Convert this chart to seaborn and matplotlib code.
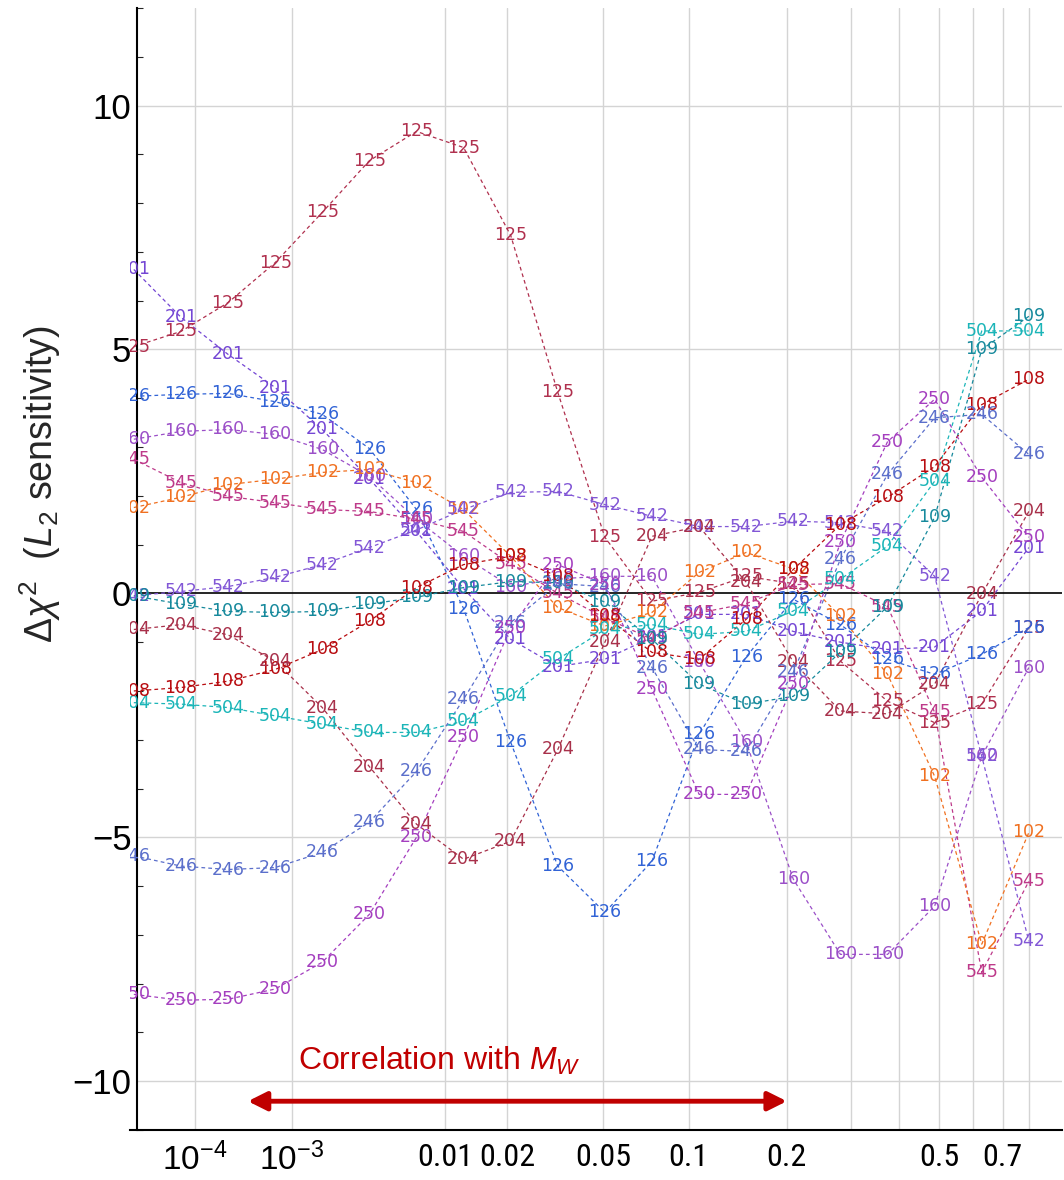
import numpy as np
import pandas as pd
import matplotlib
matplotlib.use("Agg")
import matplotlib.pyplot as plt
from matplotlib import font_manager
from matplotlib.font_manager import FontProperties
import seaborn as sns

# correlation grid (uniform in corr**0.2)
corr = [1.0e-5, 6.43e-5, 2.485e-4, 7.20e-4, 1.730e-3, 3.645e-3, 6.974e-3, 0.01238,
        0.02072, 0.03305, 0.05065, 0.07506, 0.1081, 0.1518, 0.2087, 0.2815,
        0.3733, 0.4876, 0.6284, 0.7999]

d125 = [5.06, 5.37, 5.96, 6.78, 7.81, 8.87, 9.47, 9.14, 7.34, 4.12, 1.15, -0.16, 0.02, 0.35, 0.20, -1.39, -2.21, -2.65, -2.27, -0.70]
d201 = [6.64, 5.66, 4.90, 4.22, 3.36, 2.35, 1.27, 0.10, -0.94, -1.50, -1.35, -0.90, -0.43, -0.43, -0.78, -1.00, -1.15, -1.10, -0.36, 0.94]
d126 = [4.04, 4.08, 4.10, 3.93, 3.67, 2.97, 1.72, -0.31, -3.05, -5.59, -6.54, -5.49, -2.89, -1.30, -0.12, -0.64, -1.35, -1.66, -1.25, -0.70]
d160 = [3.16, 3.32, 3.36, 3.26, 2.95, 2.40, 1.52, 0.76, 0.14, 0.30, 0.35, 0.35, -1.40, -3.05, -5.86, -7.40, -7.40, -6.41, -3.34, -1.52]
d545 = [2.75, 2.27, 1.99, 1.86, 1.72, 1.68, 1.52, 1.27, 0.60, 0.00, -0.50, -0.94, -0.40, -0.21, 0.18, 0.20, -0.27, -2.44, -7.77, -5.90]
d102 = [1.76, 1.97, 2.23, 2.34, 2.48, 2.54, 2.27, 1.72, 0.76, -0.29, -0.67, -0.39, 0.43, 0.84, 0.50, -0.47, -1.66, -3.75, -7.19, -4.90]
d542 = [-0.05, 0.04, 0.14, 0.33, 0.59, 0.94, 1.30, 1.72, 2.07, 2.09, 1.82, 1.58, 1.37, 1.37, 1.48, 1.45, 1.27, 0.35, -3.34, -7.13]
d109 = [-0.05, -0.22, -0.37, -0.39, -0.37, -0.22, -0.08, 0.12, 0.24, 0.22, -0.18, -0.94, -1.86, -2.27, -2.11, -1.20, -0.27, 1.56, 5.00, 5.68]
d504 = [-2.24, -2.27, -2.34, -2.51, -2.68, -2.85, -2.85, -2.62, -2.10, -1.35, -0.74, -0.64, -0.84, -0.78, -0.36, 0.29, 0.97, 2.30, 5.38, 5.38]
d108 = [-2.00, -1.93, -1.80, -1.56, -1.15, -0.57, 0.12, 0.59, 0.76, 0.35, -0.46, -1.21, -1.35, -0.53, 0.49, 1.41, 1.97, 2.60, 3.87, 4.39]
d204 = [-0.74, -0.64, -0.85, -1.39, -2.34, -3.55, -4.73, -5.45, -5.08, -3.20, -1.00, 1.17, 1.37, 0.23, -1.41, -2.41, -2.47, -1.86, -0.02, 1.68]
d246 = [-5.38, -5.59, -5.66, -5.62, -5.31, -4.69, -3.65, -2.17, -0.60, 0.20, 0.14, -1.52, -3.20, -3.24, -1.62, 0.70, 2.44, 3.60, 3.67, 2.85]
d250 = [-8.22, -8.34, -8.32, -8.11, -7.56, -6.58, -5.00, -2.95, -0.70, 0.59, 0.18, -1.97, -4.12, -4.12, -1.86, 1.05, 3.11, 3.98, 2.38, 1.15]

series = {
    "125": d125, "201": d201, "126": d126, "160": d160, "545": d545,
    "102": d102, "542": d542, "109": d109, "504": d504, "108": d108,
    "204": d204, "246": d246, "250": d250,
}
colors = {
    "125": "#B0304E", "201": "#7446D4", "126": "#3163D6", "160": "#9B4FC8",
    "545": "#BE3A8A", "102": "#F07020", "542": "#8257D6", "109": "#16899C",
    "504": "#1BB5B8", "108": "#B80C10", "204": "#A8304A", "246": "#5B6FCB",
    "250": "#A43EBF",
}

tick_vals = [1e-4, 1e-3, 0.01, 0.02, 0.05, 0.1, 0.2, 0.3, 0.4, 0.5, 0.6, 0.7, 0.8]
tick_text = [r"$10^{-4}$", r"$10^{-3}$", "0.01", "0.02", "0.05", "0.1", "0.2",
             "", "", "0.5", "", "0.7", ""]

rows = []
for name, vals in series.items():
    for c, v in zip(corr, vals):
        rows.append({"set": name, "corr": c, "dchi2": v})
df = pd.DataFrame(rows)

sns.set_theme(style="white")
plt.rcParams["font.family"] = ["Liberation Sans", "DejaVu Sans"]
plt.rcParams["mathtext.fontset"] = "custom"
plt.rcParams["mathtext.rm"] = "Liberation Sans"
plt.rcParams["mathtext.it"] = "Liberation Sans:italic"
plt.rcParams["mathtext.bf"] = "Liberation Sans:bold"


def condensed_font():
    """Return a narrow sans face for the crowded axis numbers, if one exists."""
    fonts = font_manager.fontManager.ttflist
    names = {f.name for f in fonts}
    for fam in ["Liberation Sans Narrow", "Roboto Condensed",
                "Open Sans Condensed", "Noto Sans Condensed"]:
        if fam in names:
            return FontProperties(family=fam)
    for fam in ["Liberation Sans", "Noto Sans", "Roboto", "Open Sans",
                "DejaVu Sans"]:
        for f in fonts:
            if (f.name == fam and f.style == "normal"
                    and f.stretch in ("condensed", "semi-condensed")
                    and f.weight in (400, "normal", "regular")):
                return FontProperties(fname=f.fname)
    return None


narrow = condensed_font()

fig = plt.figure(figsize=(10.64, 11.8), dpi=100)
ax = fig.add_axes([130 / 1064, 50 / 1180, (1062 - 130) / 1064, 1122 / 1180])


def fwd(x):
    return np.power(np.clip(x, 0, None), 0.2)


def inv(u):
    return np.power(np.clip(u, 0, None), 5.0)


ax.set_xscale("function", functions=(fwd, inv))
ax.set_xlim(8.30e-6, 0.9416)
ax.set_ylim(-11, 12)

# grid
for tv in tick_vals:
    ax.axvline(tv, color="#d4d4d4", lw=1.0, zorder=0)
for yv in [-10, -5, 5, 10]:
    ax.axhline(yv, xmin=7 / 932, color="#d4d4d4", lw=1.0, zorder=0)
ax.axhline(0, xmin=7 / 932, color="black", lw=1.2, zorder=1)

sns.lineplot(data=df, x="corr", y="dchi2", hue="set", palette=colors,
             estimator=None, sort=False, legend=False, ax=ax,
             lw=0.9, linestyle=(0, (3.0, 2.5)), zorder=2)

for name, vals in series.items():
    for c, v in zip(corr, vals):
        ax.text(c, v, name, color=colors[name], ha="center", va="center",
                fontsize=12.5, family="DejaVu Sans", zorder=3, clip_on=True)

ax.set_xticks(tick_vals)
ax.set_xticklabels(tick_text)
ax.set_yticks([-10, -5, 0, 5, 10])
ax.set_yticklabels(["\u221210", "\u22125", "0", "5", "10"])
ax.set_yticks(np.arange(-11, 13, 1), minor=True)
ax.tick_params(axis="x", which="major", direction="in", length=8, width=1,
               labelsize=24, pad=9, colors="black")
ax.tick_params(axis="y", which="major", direction="in", length=8, width=1,
               labelsize=25, pad=4, colors="black")
ax.tick_params(axis="y", which="minor", direction="in", length=4, width=0.8,
               left=True)
ax.tick_params(axis="x", which="minor", bottom=False)
for lab in ax.get_xticklabels():
    if lab.get_text().startswith("$"):
        lab.set_fontsize(24)
    elif narrow is not None:
        lab.set_fontproperties(narrow)
        lab.set_fontsize(23)
    else:
        lab.set_fontsize(21)
ax.set_xlabel("")
ax.set_ylabel("")

for side in ["top", "right"]:
    ax.spines[side].set_visible(False)
for side in ["left", "bottom"]:
    ax.spines[side].set_color("black")
    ax.spines[side].set_linewidth(1.5)
ax.spines["left"].set_position(("axes", 7 / 932))

fig.text(40 / 1064, 1 - 484 / 1180, r"$\Delta\chi^2$  ($L_2$ sensitivity)",
         rotation=90, ha="center", va="center", fontsize=27)

# range of the correlation with M_W
ax.annotate("", xy=(0.2, -10.41), xytext=(4.0e-4, -10.41),
            arrowprops=dict(arrowstyle="<|-|>", color="#C00000", lw=3.5,
                            mutation_scale=28, shrinkA=0, shrinkB=0))
ax.text(1.12e-3, -9.59, r"Correlation with $M_W$", color="#C00000",
        ha="left", va="center", fontsize=23)

fig.savefig("out.png", dpi=100)
